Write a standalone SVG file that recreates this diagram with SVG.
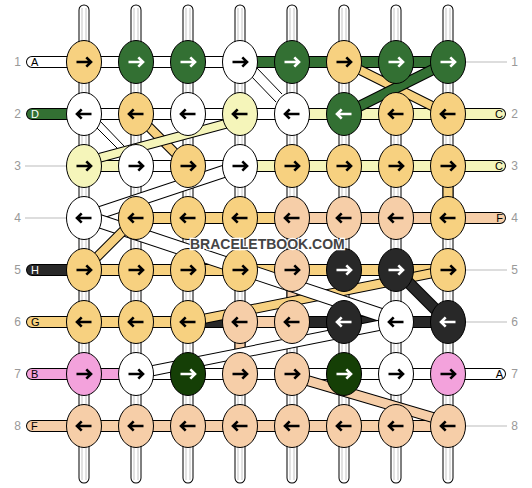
<svg xmlns="http://www.w3.org/2000/svg" xmlns:xlink="http://www.w3.org/1999/xlink" width="532" height="488" viewBox="0 0 532 488">
<style>
.k{stroke:#000;stroke-width:1}
.o{fill:#F7D180}.g{fill:#337033}.w{fill:#fff}.y{fill:#F5F5BA}.p{fill:#F6CEA8}.b{fill:#282828}.d{fill:#153F06}.m{fill:#F3A2DC}
.arr{fill:none;stroke-width:2.6}
.ab{stroke:#000}.aw{stroke:#fff}
.num{font-family:"Liberation Sans",Arial,sans-serif;font-size:12px;fill:#999}
.lab{font-family:"Liberation Sans",Arial,sans-serif;font-size:11px}
.gl{stroke:#bbb;stroke-width:1;fill:none}
.vo{stroke:#000;stroke-width:11;fill:none}
.vw{stroke:#fff;stroke-width:9;fill:none}
.vg{stroke:#c4c4c4;stroke-width:5;fill:none}
.vi{stroke:#fff;stroke-width:3;fill:none}
.ho{stroke:#000;stroke-width:12;fill:none}
.hc{stroke-width:10;fill:none}
.so{stroke:#F7D180}.sg{stroke:#337033}.sw{stroke:#fff}.sy{stroke:#F5F5BA}.sp{stroke:#F6CEA8}.sb{stroke:#282828}.sm{stroke:#F3A2DC}
.ol{stroke:#000;fill:none}
.fl{fill:none}
.thin{stroke:#000;stroke-width:1;fill:none}
.wm{font-family:"Liberation Sans",Arial,sans-serif;font-size:14px;font-weight:bold;fill:#444;stroke:#fff;stroke-width:2.5;paint-order:stroke}
</style>
<defs>
<path id="ar" d="M-7.5,0H7M2.3,-4.6L7,0L2.3,4.6"/>
</defs>

<g id="labels">
<text class="num" x="17.5" y="66" text-anchor="middle">1</text>
<text class="num" x="17.5" y="118" text-anchor="middle">2</text>
<text class="num" x="17.5" y="170" text-anchor="middle">3</text>
<text class="num" x="17.5" y="222" text-anchor="middle">4</text>
<text class="num" x="17.5" y="274" text-anchor="middle">5</text>
<text class="num" x="17.5" y="326" text-anchor="middle">6</text>
<text class="num" x="17.5" y="378" text-anchor="middle">7</text>
<text class="num" x="17.5" y="430" text-anchor="middle">8</text>
<text class="num" x="514.5" y="66" text-anchor="middle">1</text>
<text class="num" x="514.5" y="118" text-anchor="middle">2</text>
<text class="num" x="514.5" y="170" text-anchor="middle">3</text>
<text class="num" x="514.5" y="222" text-anchor="middle">4</text>
<text class="num" x="514.5" y="274" text-anchor="middle">5</text>
<text class="num" x="514.5" y="326" text-anchor="middle">6</text>
<text class="num" x="514.5" y="378" text-anchor="middle">7</text>
<text class="num" x="514.5" y="430" text-anchor="middle">8</text>
<path class="gl" d="M25,166H67M25,218H67M465,62H507M465,270H507M465,322H507M465,426H507"/>
</g>

<g id="connectors">
<g id="verticals">
<path class="vo" stroke-linecap="round" d="M84,10V478M136,10V478M188,10V478M240,10V478M292,10V478M344,10V478M396,10V478M448,10V478"/>
<path class="vw" stroke-linecap="round" d="M84,10V478M136,10V478M188,10V478M240,10V478M292,10V478M344,10V478M396,10V478M448,10V478"/>
<path class="vg" d="M84,8V480M136,8V480M188,8V480M240,8V480M292,8V480M344,8V480M396,8V480M448,8V480"/>
<path class="vi" d="M84,8V480M136,8V480M188,8V480M240,8V480M292,8V480M344,8V480M396,8V480M448,8V480"/>
<path class="vo" d="M448,166V218M292,270V322M240,322V374"/>
<path class="fl so" style="stroke-width:9" d="M448,166V218"/>
<path class="fl sp" style="stroke-width:9" d="M292,270V322M240,322V374"/>
</g>

<g id="horizontals">
<path class="ho" stroke-linecap="round" d="M32,62H84M32,114H84M32,270H84M32,322H84M32,374H84M32,426H84M448,114H500M448,166H500M448,218H500M448,374H500"/>
<path class="ho" d="M84,62H448M84,114H448M84,166H448M84,218H448M84,270H448M84,322H448M84,374H448M84,426H448"/>
<path class="hc sw" stroke-linecap="round" d="M32,62H84M448,374H500"/>
<path class="hc sg" stroke-linecap="round" d="M32,114H84"/>
<path class="hc sb" stroke-linecap="round" d="M32,270H84"/>
<path class="hc so" stroke-linecap="round" d="M32,322H84"/>
<path class="hc sm" stroke-linecap="round" d="M32,374H84"/>
<path class="hc sp" stroke-linecap="round" d="M32,426H84M448,218H500"/>
<path class="hc sy" stroke-linecap="round" d="M448,114H500M448,166H500"/>
<path class="hc sw" d="M84,62H240M84,114H292M136,166H240M84,218H136M136,374H448"/>
<path class="hc sg" d="M240,62H448"/>
<path class="hc sy" d="M292,114H448M84,166H136M240,166H448"/>
<path class="hc so" d="M136,218H292M84,270H448M84,322H188"/>
<path class="hc sp" d="M292,218H448M240,322H292M84,426H448"/>
<path class="hc sb" d="M188,322H240M292,322H448"/>
<path class="hc sm" d="M84,374H136"/>
</g>

<g id="diagonals">
<path class="thin" d="M256,67L282,94M251,76L276,102M100,121L124,146M96,127L118,149"/>
<path class="ol" style="stroke-width:10" d="M344,62L448,114"/><path class="fl so" style="stroke-width:8" d="M344,62L448,114"/>
<path class="ol" style="stroke-width:11" d="M448,62L344,114"/><path class="fl sg" style="stroke-width:9" d="M448,62L344,114"/>
<path class="ol" style="stroke-width:10" d="M136,114L188,166"/><path class="fl so" style="stroke-width:8" d="M136,114L188,166"/>
<path class="ol" style="stroke-width:10" d="M240,120L84,162"/><path class="fl sy" style="stroke-width:8" d="M240,120L84,162"/>
<path class="ol" style="stroke-width:10" d="M188,322L448,270"/><path class="fl so" style="stroke-width:8" d="M188,322L448,270"/>
<path class="ol" style="stroke-width:13" d="M84,218L240,166"/><path class="fl sw" style="stroke-width:11" d="M84,218L240,166"/>
<path class="ol" style="stroke-width:14" d="M84,216L396,320"/><path class="fl sw" style="stroke-width:12" d="M84,216L396,320"/>
<path class="ol" style="stroke-width:11" d="M136,374L396,322"/><path class="fl sw" style="stroke-width:9" d="M136,374L396,322"/>
<path class="ol" style="stroke-width:10" d="M84,270L136,218"/><path class="fl so" style="stroke-width:8" d="M84,270L136,218"/>
<path class="ol" style="stroke-width:12" d="M396,270L448,322"/><path class="fl sb" style="stroke-width:10" d="M396,270L448,322"/>
<path class="ol" style="stroke-width:11" d="M292,376L448,422"/><path class="fl sp" style="stroke-width:9" d="M292,376L448,422"/>
</g>
</g>

<g id="strandlabels" class="lab">
<text x="31" y="66">A</text>
<text x="31" y="118" fill="#fff">D</text>
<text x="31" y="274" fill="#fff">H</text>
<text x="31" y="326">G</text>
<text x="31" y="378">B</text>
<text x="31" y="430">F</text>
<text x="503" y="118" text-anchor="end">C</text>
<text x="503" y="170" text-anchor="end">C</text>
<text x="503" y="222" text-anchor="end">F</text>
<text x="503" y="378" text-anchor="end">A</text>
</g>

<g id="knots">
<g id="k1-1" transform="translate(84,62)"><ellipse class="k o" rx="17.5" ry="21.5"/><use href="#ar" class="arr ab"/></g>
<g id="k1-2" transform="translate(136,62)"><ellipse class="k g" rx="17.5" ry="21.5"/><use href="#ar" class="arr aw"/></g>
<g id="k1-3" transform="translate(188,62)"><ellipse class="k g" rx="17.5" ry="21.5"/><use href="#ar" class="arr aw"/></g>
<g id="k1-4" transform="translate(240,62)"><ellipse class="k w" rx="17.5" ry="21.5"/><use href="#ar" class="arr ab"/></g>
<g id="k1-5" transform="translate(292,62)"><ellipse class="k g" rx="17.5" ry="21.5"/><use href="#ar" class="arr aw"/></g>
<g id="k1-6" transform="translate(344,62)"><ellipse class="k o" rx="17.5" ry="21.5"/><use href="#ar" class="arr ab"/></g>
<g id="k1-7" transform="translate(396,62)"><ellipse class="k g" rx="17.5" ry="21.5"/><use href="#ar" class="arr aw"/></g>
<g id="k1-8" transform="translate(448,62)"><ellipse class="k g" rx="17.5" ry="21.5"/><use href="#ar" class="arr aw"/></g>

<g id="k2-1" transform="translate(84,114)"><ellipse class="k w" rx="17.5" ry="21.5"/><use href="#ar" class="arr ab" transform="scale(-1,1)"/></g>
<g id="k2-2" transform="translate(136,114)"><ellipse class="k o" rx="17.5" ry="21.5"/><use href="#ar" class="arr ab" transform="scale(-1,1)"/></g>
<g id="k2-3" transform="translate(188,114)"><ellipse class="k w" rx="17.5" ry="21.5"/><use href="#ar" class="arr ab" transform="scale(-1,1)"/></g>
<g id="k2-4" transform="translate(240,114)"><ellipse class="k y" rx="17.5" ry="21.5"/><use href="#ar" class="arr ab" transform="scale(-1,1)"/></g>
<g id="k2-5" transform="translate(292,114)"><ellipse class="k w" rx="17.5" ry="21.5"/><use href="#ar" class="arr ab" transform="scale(-1,1)"/></g>
<g id="k2-6" transform="translate(344,114)"><ellipse class="k g" rx="17.5" ry="21.5"/><use href="#ar" class="arr aw" transform="scale(-1,1)"/></g>
<g id="k2-7" transform="translate(396,114)"><ellipse class="k o" rx="17.5" ry="21.5"/><use href="#ar" class="arr ab" transform="scale(-1,1)"/></g>
<g id="k2-8" transform="translate(448,114)"><ellipse class="k o" rx="17.5" ry="21.5"/><use href="#ar" class="arr ab" transform="scale(-1,1)"/></g>

<g id="k3-1" transform="translate(84,166)"><ellipse class="k y" rx="17.5" ry="21.5"/><use href="#ar" class="arr ab"/></g>
<g id="k3-2" transform="translate(136,166)"><ellipse class="k w" rx="17.5" ry="21.5"/><use href="#ar" class="arr ab"/></g>
<g id="k3-3" transform="translate(188,166)"><ellipse class="k o" rx="17.5" ry="21.5"/><use href="#ar" class="arr ab"/></g>
<g id="k3-4" transform="translate(240,166)"><ellipse class="k w" rx="17.5" ry="21.5"/><use href="#ar" class="arr ab"/></g>
<g id="k3-5" transform="translate(292,166)"><ellipse class="k o" rx="17.5" ry="21.5"/><use href="#ar" class="arr ab"/></g>
<g id="k3-6" transform="translate(344,166)"><ellipse class="k o" rx="17.5" ry="21.5"/><use href="#ar" class="arr ab"/></g>
<g id="k3-7" transform="translate(396,166)"><ellipse class="k o" rx="17.5" ry="21.5"/><use href="#ar" class="arr ab"/></g>
<g id="k3-8" transform="translate(448,166)"><ellipse class="k o" rx="17.5" ry="21.5"/><use href="#ar" class="arr ab"/></g>

<g id="k4-1" transform="translate(84,218)"><ellipse class="k w" rx="17.5" ry="21.5"/><use href="#ar" class="arr ab" transform="scale(-1,1)"/></g>
<g id="k4-2" transform="translate(136,218)"><ellipse class="k o" rx="17.5" ry="21.5"/><use href="#ar" class="arr ab" transform="scale(-1,1)"/></g>
<g id="k4-3" transform="translate(188,218)"><ellipse class="k o" rx="17.5" ry="21.5"/><use href="#ar" class="arr ab" transform="scale(-1,1)"/></g>
<g id="k4-4" transform="translate(240,218)"><ellipse class="k o" rx="17.5" ry="21.5"/><use href="#ar" class="arr ab" transform="scale(-1,1)"/></g>
<g id="k4-5" transform="translate(292,218)"><ellipse class="k p" rx="17.5" ry="21.5"/><use href="#ar" class="arr ab" transform="scale(-1,1)"/></g>
<g id="k4-6" transform="translate(344,218)"><ellipse class="k p" rx="17.5" ry="21.5"/><use href="#ar" class="arr ab" transform="scale(-1,1)"/></g>
<g id="k4-7" transform="translate(396,218)"><ellipse class="k p" rx="17.5" ry="21.5"/><use href="#ar" class="arr ab" transform="scale(-1,1)"/></g>
<g id="k4-8" transform="translate(448,218)"><ellipse class="k o" rx="17.5" ry="21.5"/><use href="#ar" class="arr ab" transform="scale(-1,1)"/></g>

<g id="k5-1" transform="translate(84,270)"><ellipse class="k o" rx="17.5" ry="21.5"/><use href="#ar" class="arr ab"/></g>
<g id="k5-2" transform="translate(136,270)"><ellipse class="k o" rx="17.5" ry="21.5"/><use href="#ar" class="arr ab"/></g>
<g id="k5-3" transform="translate(188,270)"><ellipse class="k o" rx="17.5" ry="21.5"/><use href="#ar" class="arr ab"/></g>
<g id="k5-4" transform="translate(240,270)"><ellipse class="k o" rx="17.5" ry="21.5"/><use href="#ar" class="arr ab"/></g>
<g id="k5-5" transform="translate(292,270)"><ellipse class="k p" rx="17.5" ry="21.5"/><use href="#ar" class="arr ab"/></g>
<g id="k5-6" transform="translate(344,270)"><ellipse class="k b" rx="17.5" ry="21.5"/><use href="#ar" class="arr aw"/></g>
<g id="k5-7" transform="translate(396,270)"><ellipse class="k b" rx="17.5" ry="21.5"/><use href="#ar" class="arr aw"/></g>
<g id="k5-8" transform="translate(448,270)"><ellipse class="k o" rx="17.5" ry="21.5"/><use href="#ar" class="arr ab"/></g>

<g id="k6-1" transform="translate(84,322)"><ellipse class="k o" rx="17.5" ry="21.5"/><use href="#ar" class="arr ab" transform="scale(-1,1)"/></g>
<g id="k6-2" transform="translate(136,322)"><ellipse class="k o" rx="17.5" ry="21.5"/><use href="#ar" class="arr ab" transform="scale(-1,1)"/></g>
<g id="k6-3" transform="translate(188,322)"><ellipse class="k o" rx="17.5" ry="21.5"/><use href="#ar" class="arr ab" transform="scale(-1,1)"/></g>
<g id="k6-4" transform="translate(240,322)"><ellipse class="k p" rx="17.5" ry="21.5"/><use href="#ar" class="arr ab" transform="scale(-1,1)"/></g>
<g id="k6-5" transform="translate(292,322)"><ellipse class="k p" rx="17.5" ry="21.5"/><use href="#ar" class="arr ab" transform="scale(-1,1)"/></g>
<g id="k6-6" transform="translate(344,322)"><ellipse class="k b" rx="17.5" ry="21.5"/><use href="#ar" class="arr aw" transform="scale(-1,1)"/></g>
<g id="k6-7" transform="translate(396,322)"><ellipse class="k w" rx="17.5" ry="21.5"/><use href="#ar" class="arr ab" transform="scale(-1,1)"/></g>
<g id="k6-8" transform="translate(448,322)"><ellipse class="k b" rx="17.5" ry="21.5"/><use href="#ar" class="arr aw" transform="scale(-1,1)"/></g>

<g id="k7-1" transform="translate(84,374)"><ellipse class="k m" rx="17.5" ry="21.5"/><use href="#ar" class="arr ab"/></g>
<g id="k7-2" transform="translate(136,374)"><ellipse class="k w" rx="17.5" ry="21.5"/><use href="#ar" class="arr ab"/></g>
<g id="k7-3" transform="translate(188,374)"><ellipse class="k d" rx="17.5" ry="21.5"/><use href="#ar" class="arr aw"/></g>
<g id="k7-4" transform="translate(240,374)"><ellipse class="k p" rx="17.5" ry="21.5"/><use href="#ar" class="arr ab"/></g>
<g id="k7-5" transform="translate(292,374)"><ellipse class="k p" rx="17.5" ry="21.5"/><use href="#ar" class="arr ab"/></g>
<g id="k7-6" transform="translate(344,374)"><ellipse class="k d" rx="17.5" ry="21.5"/><use href="#ar" class="arr aw"/></g>
<g id="k7-7" transform="translate(396,374)"><ellipse class="k w" rx="17.5" ry="21.5"/><use href="#ar" class="arr ab"/></g>
<g id="k7-8" transform="translate(448,374)"><ellipse class="k m" rx="17.5" ry="21.5"/><use href="#ar" class="arr ab"/></g>

<g id="k8-1" transform="translate(84,426)"><ellipse class="k p" rx="17.5" ry="21.5"/><use href="#ar" class="arr ab" transform="scale(-1,1)"/></g>
<g id="k8-2" transform="translate(136,426)"><ellipse class="k p" rx="17.5" ry="21.5"/><use href="#ar" class="arr ab" transform="scale(-1,1)"/></g>
<g id="k8-3" transform="translate(188,426)"><ellipse class="k p" rx="17.5" ry="21.5"/><use href="#ar" class="arr ab" transform="scale(-1,1)"/></g>
<g id="k8-4" transform="translate(240,426)"><ellipse class="k p" rx="17.5" ry="21.5"/><use href="#ar" class="arr ab" transform="scale(-1,1)"/></g>
<g id="k8-5" transform="translate(292,426)"><ellipse class="k p" rx="17.5" ry="21.5"/><use href="#ar" class="arr ab" transform="scale(-1,1)"/></g>
<g id="k8-6" transform="translate(344,426)"><ellipse class="k p" rx="17.5" ry="21.5"/><use href="#ar" class="arr ab" transform="scale(-1,1)"/></g>
<g id="k8-7" transform="translate(396,426)"><ellipse class="k p" rx="17.5" ry="21.5"/><use href="#ar" class="arr ab" transform="scale(-1,1)"/></g>
<g id="k8-8" transform="translate(448,426)"><ellipse class="k p" rx="17.5" ry="21.5"/><use href="#ar" class="arr ab" transform="scale(-1,1)"/></g>
</g>

<text id="watermark" class="wm" x="190" y="249">BRACELETBOOK.COM</text>
</svg>
